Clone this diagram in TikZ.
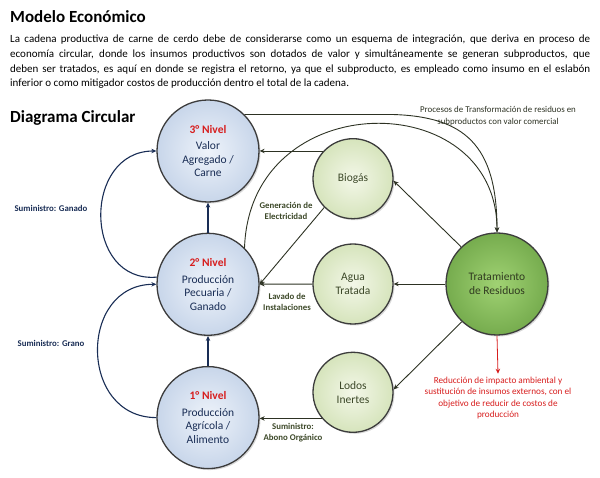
\documentclass[tikz,border=0pt]{standalone}
\usepackage{fontspec}
\setmainfont{Carlito}
\usepackage{tikz}
\usetikzlibrary{arrows.meta, positioning, shadows}
\definecolor{lvlinner}{RGB}{238,243,250}
\definecolor{lvlouter}{RGB}{200,214,234}
\definecolor{subinner}{RGB}{243,247,232}
\definecolor{subouter}{RGB}{214,228,188}
\definecolor{treatinner}{RGB}{160,210,115}
\definecolor{treatouter}{RGB}{118,172,78}
\definecolor{rimgray}{RGB}{60,60,60}
\definecolor{navytext}{RGB}{25,45,85}
\definecolor{olivetext}{RGB}{60,72,40}
\definecolor{darkarrow}{RGB}{45,50,35}
\definecolor{alertred}{RGB}{215,30,30}
\tikzset{
  basecircle/.style={
    circle, inner sep=0pt, draw=rimgray, line width=1.3pt, align=center,
    drop shadow={shadow xshift=1.5pt, shadow yshift=-1.5pt, opacity=0.3}
  },
  levelnode/.style={basecircle, minimum size=102pt, inner color=lvlinner, outer color=lvlouter,
    text=navytext, font=\fontsize{11.5}{13.5}\selectfont},
  subnode/.style={basecircle, minimum size=80pt, inner color=subinner, outer color=subouter,
    text=olivetext, font=\fontsize{11.5}{13.5}\selectfont},
  treatnode/.style={basecircle, minimum size=102pt, inner color=treatinner, outer color=treatouter,
    text=olivetext!80!black, font=\fontsize{11.5}{14}\selectfont},
  bluelabel/.style={align=center, text=navytext, font=\fontsize{8.8}{11}\selectfont\bfseries},
  olivelabel/.style={align=center, text=olivetext, font=\fontsize{8.8}{11}\selectfont\bfseries},
  notelabel/.style={align=center, text=darkarrow, font=\fontsize{8.9}{11.5}\selectfont},
  rednote/.style={align=center, text=alertred, font=\fontsize{9.2}{11.2}\selectfont},
  bluearrow/.style={-{Stealth[length=5pt,width=4.5pt]}, line width=1.1pt, color=navytext},
  darkarrowline/.style={-{Stealth[length=5pt,width=4.5pt]}, line width=0.9pt, color=darkarrow},
  redarrow/.style={-{Stealth[length=5pt,width=4.5pt]}, line width=0.8pt, color=alertred}
}
\begin{document}
\begin{tikzpicture}[x=1pt, y=1pt]
  \useasboundingbox (0,0) rectangle (600,-478);

  % heading and text
  \node[anchor=west, inner sep=0pt, font=\fontsize{17}{20}\selectfont\bfseries] (titulo) at (10,-17) {Modelo Económico};
  \node[anchor=north west, inner sep=0pt, text width=580pt, align=justify,
        font=\fontsize{11}{14.6}\selectfont] (parrafo) at (10,-35)
    {La cadena productiva de carne de cerdo debe de considerarse como un esquema de integración, que deriva en proceso de\linebreak
     economía circular, donde los insumos productivos son dotados de valor y simultáneamente se generan subproductos, que\linebreak
     deben ser tratados, es aquí en donde se registra el retorno, ya que el subproducto, es empleado como insumo en el eslabón\linebreak
     inferior o como mitigador costos de producción dentro el total de la cadena.};
  \node[anchor=west, inner sep=0pt, font=\fontsize{17}{20}\selectfont\bfseries] (subtitulo) at (10,-118) {Diagrama Circular};

  % levels
  \node[levelnode] (nivel3) at (208,-151)
        {\textcolor{alertred}{\bfseries 3° Nivel}\\[3pt]Valor\\Agregado /\\Carne};
  \node[levelnode, below=30pt of nivel3] (nivel2)
        {\textcolor{alertred}{\bfseries 2° Nivel}\\[3pt]Producción\\Pecuaria /\\Ganado};
  \node[levelnode, below=30pt of nivel2] (nivel1)
        {\textcolor{alertred}{\bfseries 1° Nivel}\\[3pt]Producción\\Agrícola /\\Alimento};

  % by-products
  \node[subnode] (agua) at (353,-284) {Agua\\Tratada};
  \node[subnode, above=24pt of agua] (biogas) {Biogás};
  \node[subnode, below=27pt of agua] (lodos) {Lodos\\Inertes};
  \node[treatnode] (tratam) at (497,-284) {Tratamiento\\de Residuos};

  % labels
  \node[bluelabel] (lblganado) at (51,-208) {Suministro: Ganado};
  \node[bluelabel] (lblgrano) at (51,-343) {Suministro: Grano};
  \node[olivelabel] (lblelec) at (286,-211) {Generación de\\Electricidad};
  \node[olivelabel] (lbllavado) at (287,-302) {Lavado de\\Instalaciones};
  \node[olivelabel] (lblabono) at (293,-433) {Suministro:\\Abono Orgánico};
  \node[notelabel] (procesos) at (498,-116) {Procesos de Transformación de residuos en\\subproductos con valor comercial};
  \node[rednote] (reduccion) at (498,-398)
        {Reducción de impacto ambiental y\\sustitución de insumos externos, con el\\objetivo de reducir de costos de\\producción};

  % supply chain
  \draw[bluearrow] (nivel1) -- (nivel2);
  \draw[bluearrow] (nivel2) -- (nivel3);
  \draw[bluearrow] (nivel2.172) to[out=185, in=180, looseness=1.5] (nivel3.west);
  \draw[bluearrow] (nivel1.west) to[out=180, in=180, looseness=1.5] (nivel2.west);

  % returns
  \draw[darkarrowline] (biogas.137) -- (biogas.137 -| nivel3.east);
  \draw[darkarrowline] (biogas.225) -- (nivel2.east);
  \draw[darkarrowline] (agua) -- (nivel2);
  \draw[darkarrowline] (lodos.220) -- (lodos.220 -| nivel1.east);
  \draw[darkarrowline] (tratam.134) -- (biogas.-3);
  \draw[darkarrowline] (tratam) -- (agua);
  \draw[darkarrowline] (tratam.227) -- (lodos.4);
  \draw[redarrow] (tratam.south) -- (reduccion.north);

  % residues to treatment
  \coordinate (curva) at (392,-116);
  \draw[darkarrowline] (nivel3.45) -- (nivel3.45 -| curva)
        .. controls +(72,-2) and +(0,88) .. (tratam.north);
  \draw[darkarrowline] (nivel2.45) .. controls (250,-85) and (497,-85) .. (tratam.north);
\end{tikzpicture}
\end{document}
